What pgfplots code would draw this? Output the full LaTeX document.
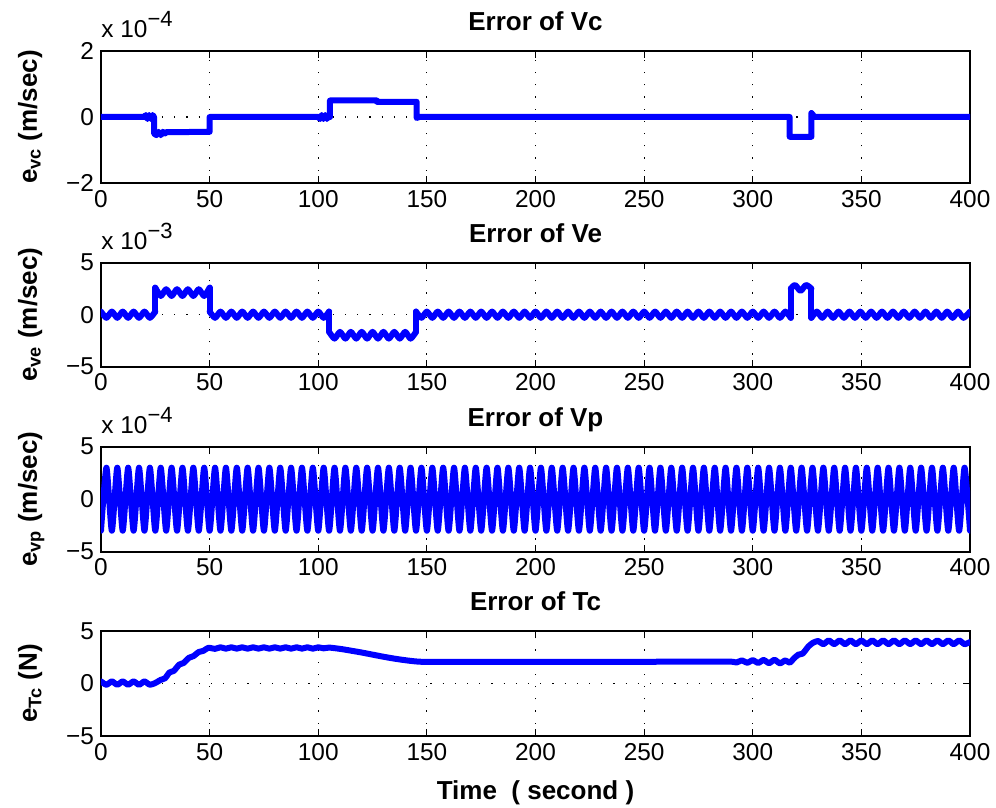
\documentclass[border=0pt]{standalone}
\usepackage{fontspec}
\setmainfont{Liberation Sans}
\usepackage{pgfplots}
\pgfplotsset{compat=1.18}

% MATLAB-like subplot style
\pgfplotsset{
  errplot/.style={
    scale only axis, width=434.5pt,
    xmin=0, xmax=400, xtick={0,50,...,400},
    scaled ticks=false,
    /pgf/number format/assume math mode=true,
    tick align=inside,
    major tick length=3.3pt,
    tick style={black, line width=0.6pt},
    axis line style={line width=0.8pt},
    grid=major,
    major grid style={black, line width=0.6pt, dash pattern=on 0.6pt off 5.5pt},
    tick label style={font=\fontsize{12.2}{14}\selectfont},
    title style={font=\bfseries\fontsize{13}{15}\selectfont, at={(0.5,1)}, anchor=base, yshift=4.3pt},
    ylabel style={font=\bfseries\fontsize{13}{15}\selectfont, at={([xshift=-32pt]rel axis cs:0,0.5)}, anchor=base},
    every axis plot/.append style={color=blue, line width=3pt, line cap=round, line join=round},
  },
}
\newcommand{\expo}[1]{x 10\raisebox{5.5pt}{\fontsize{11}{13}\selectfont −#1}}

\begin{document}
\begin{tikzpicture}
\useasboundingbox (-50.5pt,25.5pt) rectangle (447.5pt,-378.5pt);

% ---- Vc
\begin{axis}[errplot, name=ax1, at={(0pt,0pt)}, anchor=north west, height=66pt,
  ymin=-2e-4, ymax=2e-4, ytick={-2e-4,0,2e-4}, yticklabels={−2,0,2},
  title={Error of Vc}, ylabel={e\textsubscript{vc} (m/sec)}]
\addplot[sharp plot] coordinates {
(0,0)(20,0)(20.6,0.06e-4)(21.4,-0.06e-4)(22.2,0.06e-4)(23,-0.06e-4)(23.8,0.06e-4)(24.4,0)
(24.4,-0.5e-4)(25.5,-0.55e-4)(26.5,-0.45e-4)(27.5,-0.55e-4)(28.5,-0.45e-4)(29.5,-0.5e-4)(30,-0.46e-4)(50,-0.45e-4)
(50,0)(100,0)(100.8,-0.06e-4)(101.6,0.06e-4)(102.4,-0.06e-4)(103.2,0.06e-4)(104,-0.06e-4)(104.8,0.06e-4)(105.4,0)
(105.4,0.5e-4)(127,0.5e-4)(127,0.46e-4)(145.3,0.46e-4)(145.3,-0.03e-4)(146.5,0)
(317,0)(317,-0.6e-4)(327,-0.6e-4)(327,0.12e-4)(328.5,0)(400,0)};
\end{axis}
\node[anchor=base west, inner sep=0pt, font=\fontsize{12.2}{14}\selectfont] at ([yshift=6.5pt]ax1.north west) {\expo{4}};

% ---- Ve
\begin{axis}[errplot, name=ax2, at={(0pt,-105.85pt)}, anchor=north west, height=52pt,
  ymin=-5e-3, ymax=5e-3, ytick={-5e-3,0,5e-3}, yticklabels={−5,0,5},
  title={Error of Ve}, ylabel={e\textsubscript{ve} (m/sec)}]
\addplot[smooth, tension=0.36] coordinates {
(0,3e-4)(2.5,-3e-4)(5,3e-4)(7.5,-3e-4)(10,3e-4)(12.5,-3e-4)(15,3e-4)(17.5,-3e-4)(20,3e-4)(22.5,-3e-4)(25,3e-4)};
\addplot[sharp plot] coordinates {(25,3e-4)(25,2.6e-3)};
\addplot[smooth, tension=0.36] coordinates {
(25,2.6e-3)(27.5,1.8e-3)(30,2.45e-3)(32.5,1.8e-3)(35,2.45e-3)(37.5,1.8e-3)(40,2.45e-3)(42.5,1.8e-3)(45,2.45e-3)(47.5,1.8e-3)(50,2.6e-3)};
\addplot[sharp plot] coordinates {(50,2.6e-3)(50,3e-4)};
\addplot[smooth, tension=0.36] coordinates {
(50,3e-4)(52.5,-3e-4)(55,3e-4)(57.5,-3e-4)(60,3e-4)(62.5,-3e-4)(65,3e-4)(67.5,-3e-4)(70,3e-4)(72.5,-3e-4)
(75,3e-4)(77.5,-3e-4)(80,3e-4)(82.5,-3e-4)(85,3e-4)(87.5,-3e-4)(90,3e-4)(92.5,-3e-4)(95,3e-4)(97.5,-3e-4)
(100,3e-4)(102.5,-3e-4)(105,3e-4)};
\addplot[sharp plot] coordinates {(105,3e-4)(105,-1.65e-3)};
\addplot[smooth, tension=0.36] coordinates {
(105,-1.65e-3)(107.5,-2.3e-3)(110,-1.65e-3)(112.5,-2.3e-3)(115,-1.65e-3)(117.5,-2.3e-3)(120,-1.65e-3)(122.5,-2.3e-3)
(125,-1.65e-3)(127.5,-2.3e-3)(130,-1.65e-3)(132.5,-2.3e-3)(135,-1.65e-3)(137.5,-2.3e-3)(140,-1.65e-3)(142.5,-2.3e-3)(145,-1.65e-3)};
\addplot[sharp plot] coordinates {(145,-1.65e-3)(145,3e-4)};
\addplot[smooth, tension=0.36] coordinates {
(145,3e-4)(147.5,-3e-4)(150,3e-4)(152.5,-3e-4)(155,3e-4)(157.5,-3e-4)(160,3e-4)(162.5,-3e-4)(165,3e-4)(167.5,-3e-4)
(170,3e-4)(172.5,-3e-4)(175,3e-4)(177.5,-3e-4)(180,3e-4)(182.5,-3e-4)(185,3e-4)(187.5,-3e-4)(190,3e-4)(192.5,-3e-4)
(195,3e-4)(197.5,-3e-4)(200,3e-4)(202.5,-3e-4)(205,3e-4)(207.5,-3e-4)(210,3e-4)(212.5,-3e-4)(215,3e-4)(217.5,-3e-4)
(220,3e-4)(222.5,-3e-4)(225,3e-4)(227.5,-3e-4)(230,3e-4)(232.5,-3e-4)(235,3e-4)(237.5,-3e-4)(240,3e-4)(242.5,-3e-4)
(245,3e-4)(247.5,-3e-4)(250,3e-4)(252.5,-3e-4)(255,3e-4)(257.5,-3e-4)(260,3e-4)(262.5,-3e-4)(265,3e-4)(267.5,-3e-4)
(270,3e-4)(272.5,-3e-4)(275,3e-4)(277.5,-3e-4)(280,3e-4)(282.5,-3e-4)(285,3e-4)(287.5,-3e-4)(290,3e-4)(292.5,-3e-4)
(295,3e-4)(297.5,-3e-4)(300,3e-4)(302.5,-3e-4)(305,3e-4)(307.5,-3e-4)(310,3e-4)(312.5,-3e-4)(315,3e-4)(317.5,-3e-4)};
\addplot[sharp plot] coordinates {(317.5,-3e-4)(317.5,2.5e-3)};
\addplot[smooth, tension=0.5] coordinates {(317.5,2.5e-3)(319.5,2.85e-3)(322,2.3e-3)(324.5,2.85e-3)(327,2.5e-3)};
\addplot[sharp plot] coordinates {(327,2.5e-3)(327,-3e-4)};
\addplot[smooth, tension=0.36] coordinates {
(327,-3e-4)(329.5,3e-4)(332,-3e-4)(334.5,3e-4)(337,-3e-4)(339.5,3e-4)(342,-3e-4)(344.5,3e-4)(347,-3e-4)(349.5,3e-4)
(352,-3e-4)(354.5,3e-4)(357,-3e-4)(359.5,3e-4)(362,-3e-4)(364.5,3e-4)(367,-3e-4)(369.5,3e-4)(372,-3e-4)(374.5,3e-4)
(377,-3e-4)(379.5,3e-4)(382,-3e-4)(384.5,3e-4)(387,-3e-4)(389.5,3e-4)(392,-3e-4)(394.5,3e-4)(397,-3e-4)(400,3e-4)};
\end{axis}
\node[anchor=base west, inner sep=0pt, font=\fontsize{12.2}{14}\selectfont] at ([yshift=6.5pt]ax2.north west) {\expo{3}};

% ---- Vp
\begin{axis}[errplot, name=ax3, at={(0pt,-197.85pt)}, anchor=north west, height=52.5pt,
  ymin=-5e-4, ymax=5e-4, ytick={-5e-4,0,5e-4}, yticklabels={−5,0,5},
  title={Error of Vp}, ylabel={e\textsubscript{vp} (m/sec)}]
\addplot[smooth, tension=0.36] coordinates {
(0,-3e-4)(2.5,3e-4)(5,-3e-4)(7.5,3e-4)(10,-3e-4)(12.5,3e-4)(15,-3e-4)(17.5,3e-4)(20,-3e-4)(22.5,3e-4)
(25,-3e-4)(27.5,3e-4)(30,-3e-4)(32.5,3e-4)(35,-3e-4)(37.5,3e-4)(40,-3e-4)(42.5,3e-4)(45,-3e-4)(47.5,3e-4)
(50,-3e-4)(52.5,3e-4)(55,-3e-4)(57.5,3e-4)(60,-3e-4)(62.5,3e-4)(65,-3e-4)(67.5,3e-4)(70,-3e-4)(72.5,3e-4)
(75,-3e-4)(77.5,3e-4)(80,-3e-4)(82.5,3e-4)(85,-3e-4)(87.5,3e-4)(90,-3e-4)(92.5,3e-4)(95,-3e-4)(97.5,3e-4)
(100,-3e-4)(102.5,3e-4)(105,-3e-4)(107.5,3e-4)(110,-3e-4)(112.5,3e-4)(115,-3e-4)(117.5,3e-4)(120,-3e-4)(122.5,3e-4)
(125,-3e-4)(127.5,3e-4)(130,-3e-4)(132.5,3e-4)(135,-3e-4)(137.5,3e-4)(140,-3e-4)(142.5,3e-4)(145,-3e-4)(147.5,3e-4)
(150,-3e-4)(152.5,3e-4)(155,-3e-4)(157.5,3e-4)(160,-3e-4)(162.5,3e-4)(165,-3e-4)(167.5,3e-4)(170,-3e-4)(172.5,3e-4)
(175,-3e-4)(177.5,3e-4)(180,-3e-4)(182.5,3e-4)(185,-3e-4)(187.5,3e-4)(190,-3e-4)(192.5,3e-4)(195,-3e-4)(197.5,3e-4)
(200,-3e-4)(202.5,3e-4)(205,-3e-4)(207.5,3e-4)(210,-3e-4)(212.5,3e-4)(215,-3e-4)(217.5,3e-4)(220,-3e-4)(222.5,3e-4)
(225,-3e-4)(227.5,3e-4)(230,-3e-4)(232.5,3e-4)(235,-3e-4)(237.5,3e-4)(240,-3e-4)(242.5,3e-4)(245,-3e-4)(247.5,3e-4)
(250,-3e-4)(252.5,3e-4)(255,-3e-4)(257.5,3e-4)(260,-3e-4)(262.5,3e-4)(265,-3e-4)(267.5,3e-4)(270,-3e-4)(272.5,3e-4)
(275,-3e-4)(277.5,3e-4)(280,-3e-4)(282.5,3e-4)(285,-3e-4)(287.5,3e-4)(290,-3e-4)(292.5,3e-4)(295,-3e-4)(297.5,3e-4)
(300,-3e-4)(302.5,3e-4)(305,-3e-4)(307.5,3e-4)(310,-3e-4)(312.5,3e-4)(315,-3e-4)(317.5,3e-4)(320,-3e-4)(322.5,3e-4)
(325,-3e-4)(327.5,3e-4)(330,-3e-4)(332.5,3e-4)(335,-3e-4)(337.5,3e-4)(340,-3e-4)(342.5,3e-4)(345,-3e-4)(347.5,3e-4)
(350,-3e-4)(352.5,3e-4)(355,-3e-4)(357.5,3e-4)(360,-3e-4)(362.5,3e-4)(365,-3e-4)(367.5,3e-4)(370,-3e-4)(372.5,3e-4)
(375,-3e-4)(377.5,3e-4)(380,-3e-4)(382.5,3e-4)(385,-3e-4)(387.5,3e-4)(390,-3e-4)(392.5,3e-4)(395,-3e-4)(397.5,3e-4)
(400,-3e-4)};
\end{axis}
\node[anchor=base west, inner sep=0pt, font=\fontsize{12.2}{14}\selectfont] at ([yshift=6.5pt]ax3.north west) {\expo{4}};

% ---- Tc
\begin{axis}[errplot, name=ax4, at={(0pt,-290pt)}, anchor=north west, height=52.5pt,
  ymin=-5, ymax=5, ytick={-5,0,5}, yticklabels={−5,0,5},
  title={Error of Tc}, ylabel={e\textsubscript{Tc} (N)},
  xlabel={Time~~( second )},
  xlabel style={font=\bfseries\fontsize{13}{15}\selectfont, at={(0.5,0)}, anchor=base, yshift=-31.5pt}]
\addplot[smooth, tension=0.36] coordinates {
(0,0.2)(2.5,-0.12)(5,0.2)(7.5,-0.12)(10,0.2)(12.5,-0.12)(15,0.2)(17.5,-0.12)(20,0.2)(22.5,-0.12)(25,0.05)
(27.5,0.35)(29.5,0.5)(31.5,1.05)(33.5,1.2)(36,1.8)(38,1.95)(40.5,2.45)(42.5,2.6)(45,3.0)(47,3.1)(49.5,3.4)
(52.5,3.3)(55,3.45)(57.5,3.32)(60,3.45)(62.5,3.32)(65,3.45)(67.5,3.32)(70,3.45)(72.5,3.32)(75,3.45)
(77.5,3.32)(80,3.45)(82.5,3.32)(85,3.45)(87.5,3.32)(90,3.45)(92.5,3.32)(95,3.45)(97.5,3.32)(100,3.45)
(102.5,3.35)(105,3.42)(110,3.3)(115,3.13)(120,2.95)(125,2.75)(130,2.55)(135,2.37)(140,2.22)(145,2.1)(150,2.06)
(175,2.07)(200,2.07)(225,2.07)(250,2.07)(275,2.08)(290,2.08)
(292.5,2.0)(295,2.2)(297.5,1.98)(300,2.22)(302.5,1.96)(305,2.24)(307.5,1.94)(310,2.26)(312.5,1.92)(315,2.2)(317,1.98)
(319,2.4)(321,2.75)(323,2.85)(325.5,3.5)(327.5,3.85)(330,4.05)
(332.5,3.75)(335,4.1)(337.5,3.75)(340,4.1)(342.5,3.75)(345,4.1)(347.5,3.75)(350,4.1)(352.5,3.75)(355,4.1)
(357.5,3.75)(360,4.1)(362.5,3.75)(365,4.1)(367.5,3.75)(370,4.1)(372.5,3.75)(375,4.1)(377.5,3.75)(380,4.1)
(382.5,3.75)(385,4.1)(387.5,3.75)(390,4.1)(392.5,3.75)(395,4.1)(397.5,3.75)(400,3.95)};
\end{axis}
\end{tikzpicture}
\end{document}
